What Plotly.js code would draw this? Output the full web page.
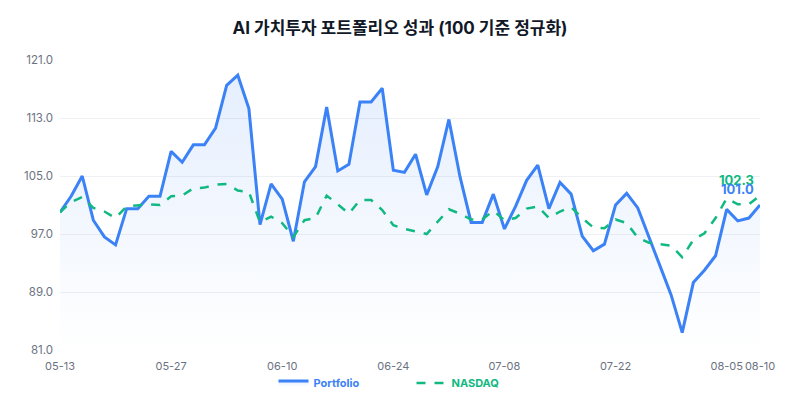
<!DOCTYPE html>
<html>
<head>
<meta charset="utf-8">
<script src="https://cdn.plot.ly/plotly-3.0.1.min.js"></script>
<style>
  html, body { margin: 0; padding: 0; background: #fff; }
  #plot { width: 800px; height: 400px; }
</style>
</head>
<body>
<div id="plot"></div>
<script>
// trading days (weekdays), last point labelled 08-10
var dates = [
  '05-13','05-14','05-15','05-16','05-17','05-20','05-21','05-22','05-23','05-24',
  '05-27','05-28','05-29','05-30','05-31','06-03','06-04','06-05','06-06','06-07',
  '06-10','06-11','06-12','06-13','06-14','06-17','06-18','06-19','06-20','06-21',
  '06-24','06-25','06-26','06-27','06-28','07-01','07-02','07-03','07-04','07-05',
  '07-08','07-09','07-10','07-11','07-12','07-15','07-16','07-17','07-18','07-19',
  '07-22','07-23','07-24','07-25','07-26','07-29','07-30','07-31','08-01','08-02',
  '08-05','08-06','08-07','08-10'
];

var portfolio = [
  100.0, 102.2, 105.0, 98.9, 96.6, 95.5, 100.5, 100.5, 102.2, 102.2,
  108.4, 106.9, 109.3, 109.3, 111.6, 117.5, 118.9, 114.3, 98.3, 103.9,
  101.8, 96.0, 104.2, 106.3, 114.5, 105.7, 106.6, 115.2, 115.2, 117.1,
  105.8, 105.5, 108.0, 102.4, 106.3, 112.8, 104.9, 98.6, 98.6, 102.5,
  97.7, 100.8, 104.4, 106.5, 100.5, 104.1, 102.5, 96.7, 94.7, 95.6,
  101.0, 102.6, 100.6, 96.5, 92.6, 88.6, 83.4, 90.3, 92.0, 94.0,
  100.4, 98.8, 99.2, 101.0
];

var nasdaq = [
  100.0, 101.4, 102.1, 100.6, 100.1, 99.2, 100.8, 100.9, 101.1, 101.0,
  102.2, 102.3, 103.3, 103.4, 103.8, 103.9, 103.0, 102.8, 98.6, 99.4,
  98.5, 96.6, 98.9, 99.2, 102.3, 101.1, 99.8, 101.7, 101.7, 100.3,
  98.2, 97.7, 97.3, 97.0, 98.7, 100.4, 99.8, 99.0, 99.0, 100.2,
  98.9, 99.2, 100.5, 100.8, 99.2, 100.1, 100.7, 99.2, 97.9, 97.8,
  99.0, 98.5, 96.5, 95.8, 95.6, 95.4, 93.8, 96.2, 97.1, 99.2,
  101.9, 101.1, 101.1, 102.3
];

var tickDates = ['05-13','05-27','06-10','06-24','07-08','07-22','08-05','08-10'];

var blue = '#3b82f6';
var green = '#10b981';
var last = dates.length - 1;

var data = [
  {
    type: 'scatter', mode: 'lines',
    name: '<b><span style="color:' + blue + '">Portfolio</span></b>',
    x: dates, y: portfolio,
    line: {color: blue, width: 3},
    fill: 'tozeroy',
    fillgradient: {
      type: 'vertical', start: 81, stop: 121,
      colorscale: [[0, 'rgba(59,130,246,0.0)'], [1, 'rgba(59,130,246,0.14)']]
    }
  },
  {
    type: 'scatter', mode: 'lines',
    name: '<b><span style="color:' + green + '">NASDAQ</span></b>',
    x: dates, y: nasdaq,
    line: {color: green, width: 2.5, dash: 'dash'}
  }
];

var layout = {
  width: 800, height: 400,
  margin: {l: 60, r: 40, t: 60, b: 50},
  paper_bgcolor: '#fff', plot_bgcolor: '#fff',
  font: {family: 'Inter, "Noto Sans CJK KR", sans-serif', color: '#6b7280', size: 11},
  title: {
    text: '<b>AI 가치투자 포트폴리오 성과 (100 기준 정규화)</b>',
    x: 0.5, xanchor: 'center', y: 0.93, yanchor: 'middle',
    font: {size: 17, color: '#111827', family: 'Inter, "Noto Sans CJK KR", sans-serif'}
  },
  xaxis: {
    type: 'category',
    range: [0, last],
    tickvals: tickDates,
    ticktext: tickDates,
    tickangle: 0, automargin: false, ticklabelstandoff: 8,
    showgrid: false, zeroline: false, showline: false,
    ticks: '', tickfont: {size: 11, color: '#6b7280'}
  },
  yaxis: {
    range: [81, 121],
    tickvals: [81, 89, 97, 105, 113, 121],
    tickformat: '.1f', automargin: false, ticklabelstandoff: 6,
    showgrid: true, gridcolor: '#eef0f3', gridwidth: 1,
    zeroline: false, showline: false, ticks: '',
    tickfont: {size: 11.5, color: '#6b7280'}
  },
  showlegend: true,
  legend: {
    orientation: 'h', xref: 'paper', x: 0.305, xanchor: 'left',
    yref: 'container', y: 0.0425, yanchor: 'middle',
    bgcolor: 'rgba(0,0,0,0)',
    font: {size: 11}, entrywidth: 93, itemwidth: 30
  },
  annotations: [
    {
      x: dates[last], y: nasdaq[last], text: '<b>' + nasdaq[last].toFixed(1) + '</b>',
      showarrow: false, xanchor: 'right', yanchor: 'bottom', xshift: -4, yshift: 6,
      font: {color: green, size: 13}
    },
    {
      x: dates[last], y: portfolio[last], text: '<b>' + portfolio[last].toFixed(1) + '</b>',
      showarrow: false, xanchor: 'right', yanchor: 'bottom', xshift: -4, yshift: 6,
      font: {color: blue, size: 13}
    }
  ]
};

Plotly.newPlot(document.getElementById('plot'), data, layout, {displayModeBar: false, staticPlot: true});
</script>
</body>
</html>
